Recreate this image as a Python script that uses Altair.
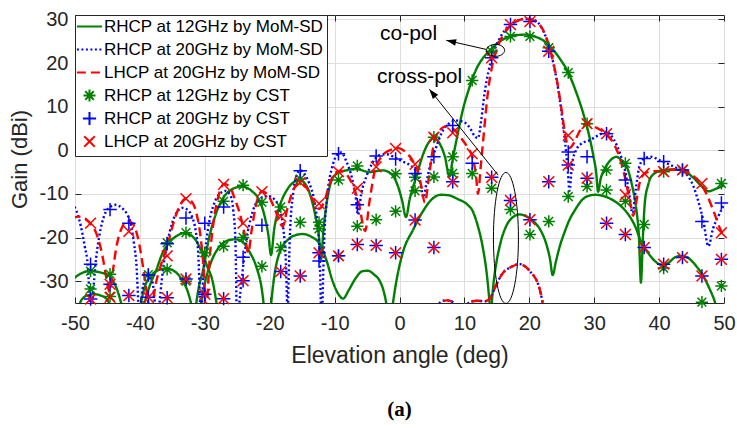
import math
import altair as alt
import pandas as pd

FONT = "Liberation Sans"
INK = "#262626"

# ---------------- series / legend definitions ----------------
SERIES = ["RHCP at 12GHz by MoM-SD", "RHCP at 20GHz by MoM-SD", "LHCP at 20GHz by MoM-SD",
          "RHCP at 12GHz by CST", "RHCP at 20GHz by CST", "LHCP at 20GHz by CST"]
COLORS = ["#008000", "#0000ff", "#ff0000", "#008000", "#0000ff", "#ff0000"]
# every symbol path carries the same invisible vertical extent so that legend rows are equally tall
EXTENT = "M0,-1.1M0,1.1"
LINE_SYM = "M-2.1,0H2.1" + EXTENT
ASTERISK = "M-1,0H1M0,-1V1M-0.72,-0.72L0.72,0.72M-0.72,0.72L0.72,-0.72" + EXTENT
PLUS = "M-1.1,0H1.1M0,-1.1V1.1" + EXTENT
CROSS = "M-0.88,-0.88L0.88,0.88M-0.88,0.88L0.88,-0.88" + EXTENT
SHAPES = [LINE_SYM, LINE_SYM, LINE_SYM, ASTERISK, PLUS, CROSS]
DASHES = [[1, 0], [2, 2.5], [9, 5], [1, 0], [1, 0], [1, 0]]

X_TICKS = [-50, -40, -30, -20, -10, 0, 10, 20, 30, 40, 50]
Y_TICKS = [-30, -20, -10, 0, 10, 20, 30]
X_DOMAIN = [-50, 50]
Y_DOMAIN = [-35, 31]

# ---------------- MoM-SD curves (segments) ----------------
RHCP12_MOM = [
    [(-50.5, -29.8), (-49.5, -28.6), (-48.5, -27.9), (-47.8, -27.7), (-46.8, -27.8), (-45.8, -28.1),
     (-45.0, -28.5), (-44.2, -29.8), (-43.5, -32.0), (-42.9, -35.0), (-42.6, -37.0)],
    [(-49.6, -37.0), (-49.0, -34.3), (-48.0, -33.2), (-47.0, -33.0), (-46.0, -33.3), (-45.0, -34.3), (-44.4, -37.0)],
    [(-40.1, -37.0), (-39.3, -31.5), (-38.3, -28.8), (-37.2, -27.5), (-36.0, -27.1), (-34.8, -27.6),
     (-33.6, -29.5), (-32.6, -32.5), (-31.8, -37.0)],
    [(-39.6, -37.0), (-39.1, -34.0), (-38.3, -30.3), (-37.5, -27.5), (-36.5, -23.5), (-35.5, -21.2),
     (-34.3, -19.6), (-33.2, -19.0), (-32.2, -19.4), (-31.4, -20.6), (-30.5, -23.2), (-29.6, -26.7),
     (-28.8, -30.0), (-28.2, -35.0), (-28.0, -37.0)],
    [(-31.5, -37.0), (-31.0, -32.0), (-30.2, -27.0), (-29.4, -20.5), (-28.5, -15.5), (-27.5, -11.8),
     (-26.2, -9.3), (-24.3, -8.3), (-22.8, -9.3), (-21.6, -11.5), (-20.8, -15.0), (-20.2, -19.5),
     (-19.8, -24.0), (-19.3, -18.0), (-18.5, -13.0), (-17.3, -9.0), (-16.3, -7.3), (-15.4, -6.8),
     (-14.4, -8.0), (-13.6, -11.0), (-12.9, -15.5), (-12.4, -20.0), (-12.1, -25.0), (-11.7, -18.0),
     (-11.3, -12.9), (-10.6, -7.5), (-9.8, -5.5), (-8.2, -4.6), (-6.7, -4.3), (-4.6, -5.0), (-2.6, -4.6),
     (-1.2, -5.5), (-0.3, -8.0), (0.4, -11.5), (1.0, -15.3), (1.6, -11.0), (2.6, -6.0), (3.5, -1.5),
     (4.3, 1.3), (5.3, 2.8), (6.2, 1.5), (7.0, -1.5), (7.7, -6.0), (8.2, -2.0), (8.8, 2.5), (9.8, 9.5),
     (10.8, 14.5), (11.8, 18.5), (12.9, 21.2), (14.0, 23.0), (15.3, 24.8), (16.5, 25.8), (18.0, 26.4),
     (19.5, 26.5), (21.0, 26.0), (22.3, 25.0), (23.5, 23.3), (24.7, 21.0), (26.0, 17.8), (27.3, 13.0),
     (28.3, 8.5), (29.2, 3.5), (29.9, -1.5), (30.3, -5.0), (30.6, -9.5), (31.0, -6.5), (31.6, -4.3),
     (32.5, -2.3), (33.4, -1.5), (34.3, -2.5), (35.2, -4.5), (35.9, -8.5), (36.5, -13.6), (36.9, -20.0),
     (37.2, -30.3), (37.5, -20.0), (37.8, -12.0), (38.3, -8.0), (38.8, -6.0), (40.4, -4.6), (42.0, -4.4),
     (43.5, -4.5), (45.2, -6.2), (46.6, -8.3), (47.6, -9.4), (48.8, -8.8), (50.5, -7.7)],
    [(-30.8, -37.0), (-30.0, -30.5), (-29.0, -25.5), (-27.8, -22.2), (-26.5, -20.7), (-25.3, -20.4),
     (-24.2, -21.0), (-23.1, -23.3), (-22.0, -27.0), (-21.2, -32.0), (-20.8, -37.0)],
    [(-19.9, -37.0), (-19.4, -30.0), (-18.5, -23.5), (-17.2, -20.5), (-15.9, -19.4), (-14.9, -19.2),
     (-13.6, -19.8), (-12.3, -21.5), (-11.3, -25.0), (-10.3, -30.0), (-9.4, -33.0), (-8.7, -34.0),
     (-7.8, -32.0), (-6.7, -29.2), (-5.7, -27.7), (-4.9, -27.6), (-3.9, -28.5), (-3.1, -29.8),
     (-2.4, -32.5), (-1.8, -37.0)],
    [(-1.2, -37.0), (-0.6, -31.0), (0.5, -23.5), (2.1, -18.2), (3.6, -14.0), (5.0, -11.2), (6.4, -10.2),
     (7.5, -10.3), (9.0, -11.2), (10.5, -12.5), (11.3, -14.0), (12.0, -17.0), (12.8, -22.0),
     (13.5, -29.0), (14.0, -37.0)],
    [(14.1, -37.0), (14.6, -29.0), (14.9, -26.0), (15.6, -21.0), (16.5, -17.2), (17.5, -15.3),
     (18.5, -14.7), (19.6, -15.2), (20.8, -16.5), (21.8, -18.5), (22.6, -21.4), (23.2, -25.0),
     (23.6, -28.6), (24.1, -25.5), (24.7, -22.0), (25.5, -18.5), (26.2, -15.9), (27.0, -13.8),
     (28.0, -11.6), (29.0, -10.5), (30.1, -10.2), (31.2, -10.4), (32.6, -11.2), (34.2, -12.9),
     (35.4, -15.0), (36.3, -17.4), (37.3, -21.2), (38.3, -23.5), (39.3, -25.3), (40.4, -26.3),
     (41.5, -25.7), (42.5, -24.5), (43.5, -24.2), (44.6, -24.8), (45.7, -26.5), (46.6, -28.3),
     (47.7, -31.5), (48.6, -34.8), (49.0, -37.0)],
]

CROSS_20_A = [(5.5, -37.0), (6.5, -34.6), (7.3, -34.4), (8.2, -34.8), (8.8, -37.0)]
CROSS_20_B = [(9.8, -37.0), (10.8, -34.8), (12.0, -34.5), (13.2, -34.6), (14.0, -33.8), (15.0, -30.5),
              (16.0, -28.0), (17.0, -26.9), (18.5, -26.1), (20.1, -27.7), (21.6, -31.8), (22.3, -37.0)]

RHCP20_MOM = [
    [(-50.5, -12.2), (-49.8, -13.8), (-49.1, -17.4), (-48.5, -22.0), (-48.0, -27.0), (-47.7, -37.0)],
    [(-47.4, -37.0), (-46.9, -27.0), (-46.3, -20.0), (-45.5, -15.0), (-44.6, -13.0), (-43.7, -12.5),
     (-42.8, -13.2), (-42.0, -14.6), (-41.3, -17.5), (-40.9, -21.5), (-40.5, -27.0), (-40.2, -37.0)],
    [(-39.9, -37.0), (-39.5, -31.0), (-38.8, -28.8), (-38.1, -30.0), (-37.6, -37.0)],
    [(-37.1, -37.0), (-36.5, -28.0), (-35.8, -21.5), (-35.0, -16.5), (-34.2, -14.0), (-33.5, -13.2),
     (-32.7, -13.6), (-31.9, -15.5), (-31.4, -18.5), (-31.0, -24.0), (-30.7, -37.0)],
    [(-30.5, -37.0), (-30.1, -26.0), (-29.5, -18.0), (-28.7, -12.8), (-27.7, -10.0), (-26.8, -9.3),
     (-26.0, -10.5), (-25.6, -14.0), (-25.3, -20.0), (-25.1, -37.0)],
    [(-24.8, -37.0), (-24.2, -28.0), (-23.4, -19.0), (-22.5, -13.5), (-21.4, -11.0), (-20.3, -10.5),
     (-19.3, -11.2), (-18.5, -13.5), (-17.9, -18.0), (-17.5, -26.0), (-17.3, -37.0)],
    [(-17.2, -37.0), (-16.9, -20.0), (-16.4, -10.0), (-15.9, -6.0), (-15.3, -4.6), (-14.6, -5.5),
     (-13.9, -7.6), (-13.2, -11.0), (-12.7, -16.0), (-12.3, -24.0), (-12.1, -37.0)],
    [(-11.9, -37.0), (-11.6, -20.5), (-11.1, -10.0), (-10.4, -4.0), (-9.6, -1.0), (-9.0, -0.5),
     (-8.2, -2.5), (-7.3, -6.5), (-6.8, -10.0), (-6.4, -14.8), (-5.9, -10.0), (-5.1, -6.0), (-4.2, -3.0),
     (-3.2, -1.2), (-2.0, -0.9), (-0.8, -1.6), (0.5, -2.6), (1.6, -3.4), (2.6, -5.0), (3.2, -7.5),
     (3.7, -10.8), (4.2, -7.0), (4.8, -3.0), (5.6, 0.5), (6.6, 4.3), (7.7, 6.2), (8.8, 6.8), (10.0, 6.4),
     (10.9, 5.0), (11.6, 3.2), (12.1, 2.8), (12.6, 7.0), (13.1, 13.0), (13.7, 18.0), (14.4, 22.0),
     (15.3, 25.2), (16.4, 27.8), (17.8, 29.4), (19.4, 30.1), (20.8, 29.8), (22.0, 27.8), (22.9, 24.5),
     (23.7, 20.0), (24.4, 14.5), (25.0, 8.3), (25.5, 2.0), (25.9, -4.0), (26.2, -9.3), (26.6, -3.0),
     (27.2, 0.0), (28.0, 1.5), (29.3, 2.3), (30.6, 3.4), (31.9, 4.2), (33.0, 2.5), (34.0, -0.8),
     (34.8, -5.0), (35.4, -10.0), (35.9, -14.4), (36.4, -9.0), (37.0, -3.5), (37.8, -1.8), (38.8, -1.5),
     (40.1, -2.3), (41.5, -3.2), (43.2, -4.5), (44.5, -6.0), (45.3, -8.3), (46.1, -12.0), (46.8, -16.0),
     (47.6, -22.0), (48.3, -18.0), (49.1, -15.2), (50.2, -12.0)],
    CROSS_20_A,
    CROSS_20_B,
]

LHCP20_MOM = [
    [(-50.5, -15.6), (-49.5, -15.2), (-48.5, -15.7), (-47.5, -17.0), (-46.6, -19.5), (-45.8, -24.0),
     (-45.2, -29.0), (-44.7, -32.5), (-44.2, -28.0), (-43.6, -22.0), (-42.8, -17.8), (-41.9, -16.2),
     (-41.1, -16.8), (-40.4, -19.5), (-39.8, -24.0), (-39.2, -30.0), (-38.7, -35.0), (-38.4, -37.0)],
    [(-38.2, -37.0), (-37.6, -31.0), (-36.8, -26.5), (-35.8, -22.0), (-34.8, -16.5), (-33.8, -12.5),
     (-32.8, -11.0), (-31.9, -12.0), (-31.2, -15.0), (-30.6, -20.5), (-30.2, -27.0), (-29.9, -37.0)],
    [(-29.7, -37.0), (-29.3, -26.0), (-28.7, -17.0), (-27.9, -10.5), (-27.0, -7.7), (-26.1, -8.5),
     (-25.3, -11.5), (-24.7, -14.0), (-23.9, -19.0), (-23.3, -23.5), (-22.8, -18.5), (-22.1, -12.5),
     (-21.2, -9.4), (-20.3, -10.2), (-19.4, -12.8), (-18.6, -15.8), (-18.0, -17.5), (-17.3, -13.5),
     (-16.4, -9.2), (-15.4, -7.4), (-14.4, -8.4), (-13.4, -11.2), (-12.4, -13.4), (-11.6, -11.8),
     (-10.8, -7.8), (-9.9, -5.2), (-9.1, -4.7), (-8.1, -5.6), (-7.2, -8.0), (-6.3, -12.0), (-5.3, -18.5),
     (-4.6, -11.5), (-3.8, -4.6), (-2.8, -1.5), (-1.5, 0.0), (-0.2, 0.5), (1.0, -0.5), (2.0, -2.3),
     (2.8, -4.8), (3.4, -8.5), (3.9, -12.0), (4.5, -6.5), (5.2, 0.8), (6.2, 4.6), (7.4, 5.6), (8.5, 4.6),
     (9.6, 2.6), (10.6, 0.4), (11.3, -1.8), (11.8, -6.0), (12.1, -10.0), (12.5, -4.0), (13.0, 4.0),
     (13.6, 13.0), (14.3, 19.5), (15.2, 24.0), (16.5, 27.5), (18.0, 29.5), (19.5, 30.2), (21.0, 29.5),
     (22.3, 27.0), (23.3, 22.5), (24.2, 16.5), (25.0, 9.0), (25.6, 3.0), (26.2, 0.5), (26.8, 1.5),
     (27.8, 4.5), (28.9, 6.3), (30.3, 5.2), (31.9, 3.6), (33.2, 1.0), (34.2, -3.0), (35.0, -8.0),
     (35.6, -12.5), (36.0, -15.0), (36.4, -12.5), (37.0, -7.5), (37.8, -5.3), (39.0, -4.8), (40.7, -4.8),
     (42.2, -4.4), (43.6, -4.4), (45.0, -5.6), (46.2, -7.2), (47.3, -10.0), (48.4, -14.0), (49.4, -18.0),
     (50.5, -21.0)],
    CROSS_20_A,
    CROSS_20_B,
]

# ---------------- CST samples (two values per angle: upper / lower trace) ----------------
CST_ANGLES = [-47.6, -44.6, -41.7, -38.7, -35.8, -32.9, -30.0, -27.1, -24.1, -21.2, -18.3, -15.3,
              -12.4, -9.4, -6.5, -3.6, -0.6, 2.4, 5.3, 8.2, 11.2, 14.2, 17.1, 20.1, 23.0, 26.0, 28.9,
              31.9, 34.8, 37.7, 40.7, 43.6, 46.6, 49.6]
RHCP12_CST_A = [-27.7, -28.4, None, -28.5, -21.2, -18.9, -23.5, -11.7, -8.0, -11.9, -13.0, -6.6, -16.5,
                -6.8, -3.6, -15.9, -5.4, -6.2, 3.0, -1.5, 16.0, 22.7, 26.1, 26.1, 23.5, 17.8, 6.1, -4.5,
                -3.0, -17.0, -4.9, -4.6, -34.8, -7.6]
RHCP12_CST_B = [-31.8, -33.5, None, None, -27.3, -30.0, None, -22.0, -20.0, -26.6, -22.3, -16.5, -18.0,
                -24.2, -17.4, None, -14.0, -9.3, -6.1, -5.3, -5.3, -8.7, -13.6, -19.3, -16.3, -10.6, -8.3,
                -9.1, -11.7, None, -27.0, None, None, -31.1]
RHCP20_CST_A = [-26.1, -13.6, -16.7, -28.6, -21.4, -15.5, -16.7, -13.0, -24.5, -17.2, -27.8, -4.7, -23.5,
                -0.8, -12.5, -1.3, -2.0, -5.3, -1.5, 5.7, -3.0, 21.2, 28.8, 29.5, 22.7, -0.4, -1.5, 3.8,
                -6.8, -1.9, -2.6, -4.5, -16.3, -12.1]
RHCP20_CST_B = [-34.1, -30.7, -33.3, -33.7, -33.8, -29.5, -33.0, -34.0, -29.9, None, None, -28.8, -25.4,
                -24.2, -21.6, -21.8, -23.5, -16.0, -22.3, -7.2, None, -6.2, -11.5, -15.9, -7.2, -3.4, -6.4,
                -16.7, -19.3, -22.3, -26.1, -24.6, -28.8, -25.0]
LHCP20_CST_A = [-16.7, -30.7, -18.6, -33.7, -24.2, -11.1, -33.0, -7.8, -16.7, -9.5, -15.2, -7.4, -12.2,
                -4.9, -8.7, -3.8, 0.4, -3.2, 3.0, 4.0, -0.8, 21.2, 28.8, 29.5, 22.7, 3.4, 6.1, 3.8, -10.2,
                -5.3, -4.9, -4.5, -7.6, -18.9]
LHCP20_CST_B = [-34.1, -33.7, -33.3, None, -33.8, -29.5, None, -34.0, -29.9, None, -27.8, -28.8, -23.5,
                -24.2, -21.6, -21.8, -23.5, -16.0, -22.3, -7.2, None, -6.2, -11.5, -15.9, -7.2, -3.4, -6.4,
                -16.7, -19.3, -22.3, -26.1, -24.6, -28.8, -25.0]

# ---------------- annotations ----------------
LABELS = ["co-pol", "cross-pol"]
LABEL_X = [1.4, 3.1]
LABEL_Y = [25.2, 15.5]
ARROW_TAIL_X = [13.4, 15.2]
ARROW_TAIL_Y = [23.1, -5.7]
ARROW_TIP_X = [7.2, 4.6]
ARROW_TIP_Y = [25.2, 14.0]
COPOL_ELLIPSE = (14.8, 22.9)
XPOL_ELLIPSE = (16.4, -20.1)

# ---------------- geometry ----------------
PLOT_W, PLOT_H = 649, 288
PAD = {"left": 75, "top": 15, "right": 737 - 75 - 649, "bottom": 428 - 15 - 288}

# ---------------- build tables ----------------
line_rows = []
for name, segs in [(SERIES[0], RHCP12_MOM), (SERIES[1], RHCP20_MOM), (SERIES[2], LHCP20_MOM)]:
    for si, seg in enumerate(segs):
        for i, (x, y) in enumerate(seg):
            line_rows.append({"series": name, "seg": f"{name}#{si}", "i": i, "x": x, "y": y})
line_df = pd.DataFrame(line_rows)

pt_rows = []
for name, va, vb in [(SERIES[3], RHCP12_CST_A, RHCP12_CST_B),
                     (SERIES[4], RHCP20_CST_A, RHCP20_CST_B),
                     (SERIES[5], LHCP20_CST_A, LHCP20_CST_B)]:
    for x, a, b in zip(CST_ANGLES, va, vb):
        for v in (a, b):
            if v is not None:
                pt_rows.append({"series": name, "x": x, "y": v})
pt_df = pd.DataFrame(pt_rows)

kx = PLOT_W / (X_DOMAIN[1] - X_DOMAIN[0])
ky = PLOT_H / (Y_DOMAIN[1] - Y_DOMAIN[0])
angles = []
for tx, ty, hx, hy in zip(ARROW_TAIL_X, ARROW_TAIL_Y, ARROW_TIP_X, ARROW_TIP_Y):
    dx = (hx - tx) * kx
    dy = -(hy - ty) * ky
    angles.append(math.degrees(math.atan2(dx, -dy)) % 360)
arrow_df = pd.DataFrame({"x": ARROW_TAIL_X, "y": ARROW_TAIL_Y, "x2": ARROW_TIP_X, "y2": ARROW_TIP_Y,
                         "ang": angles})
text_df = pd.DataFrame({"label": LABELS, "x": LABEL_X, "y": LABEL_Y})

# ---------------- scales / axes ----------------
XS = alt.Scale(domain=X_DOMAIN, nice=False, zero=False)
YS = alt.Scale(domain=Y_DOMAIN, nice=False, zero=False)
CS = alt.Scale(domain=SERIES, range=COLORS)
SS = alt.Scale(domain=SERIES, range=SHAPES)
DS = alt.Scale(domain=SERIES, range=DASHES)

LEG = alt.Legend(title=None, orient="top-left", offset=0, padding=3, strokeColor=INK, fillColor="white",
                 labelFont=FONT, labelFontSize=17, labelColor="black", labelLimit=500,
                 symbolSize=144, symbolStrokeWidth=2, symbolOffset=3, labelOffset=6, rowPadding=0)

x_axis = alt.Axis(values=X_TICKS, orient="bottom", offset=-6, tickSize=6, tickColor=INK, domain=False,
                  grid=True, gridColor="#dedede", gridWidth=1, labelFont=FONT, labelFontSize=20,
                  labelColor=INK, labelPadding=10, labelExpr="'' + datum.value", labelFlush=False,
                  labelOverlap=False, title="Elevation angle (deg)", titleFont=FONT, titleFontSize=23,
                  titleFontWeight="normal", titleColor=INK, titlePadding=11)
y_axis = alt.Axis(values=Y_TICKS, orient="left", offset=-6, tickSize=6, tickColor=INK, domain=False,
                  grid=True, gridColor="#dedede", gridWidth=1, labelFont=FONT, labelFontSize=20,
                  labelColor=INK, labelPadding=7, labelExpr="'' + datum.value", labelOverlap=False,
                  title="Gain (dBi)", titleFont=FONT, titleFontSize=22, titleFontWeight="normal",
                  titleColor=INK, titlePadding=8)
top_axis = alt.Axis(values=X_TICKS, orient="top", offset=-6, tickSize=6, tickColor=INK, domain=False,
                    grid=False, labels=False, title=None)
right_axis = alt.Axis(values=Y_TICKS, orient="right", offset=-6, tickSize=6, tickColor=INK, domain=False,
                      grid=False, labels=False, title=None)

# ---------------- layers ----------------
lines = alt.Chart(line_df).mark_line(strokeWidth=2.4, clip=True, interpolate="monotone").encode(
    x=alt.X("x:Q", scale=XS, axis=None),
    y=alt.Y("y:Q", scale=YS, axis=None),
    color=alt.Color("series:N", scale=CS, legend=LEG),
    strokeDash=alt.StrokeDash("series:N", scale=DS, legend=LEG),
    detail="seg:N",
    order="i:Q",
)

points = alt.Chart(pt_df).mark_point(filled=False, size=150, strokeWidth=1.5, opacity=1).encode(
    x=alt.X("x:Q", scale=XS, axis=x_axis),
    y=alt.Y("y:Q", scale=YS, axis=y_axis),
    color=alt.Color("series:N", scale=CS, legend=LEG),
    shape=alt.Shape("series:N", scale=SS, legend=LEG),
    strokeDash=alt.StrokeDash("series:N", scale=DS, legend=LEG),
)

ell_co = alt.Chart(pd.DataFrame({"x": [COPOL_ELLIPSE[0]], "y": [COPOL_ELLIPSE[1]]})).mark_point(
    shape="M-0.9,0A0.9,0.6 0 1,1 0.9,0A0.9,0.6 0 1,1 -0.9,0Z", size=400, filled=False,
    color="black", strokeWidth=1, opacity=1).encode(
    x=alt.X("x:Q", scale=XS, axis=top_axis),
    y=alt.Y("y:Q", scale=YS, axis=right_axis),
)
ell_x = alt.Chart(pd.DataFrame({"x": [XPOL_ELLIPSE[0]], "y": [XPOL_ELLIPSE[1]]})).mark_point(
    shape="M0,-6.55A1.25,6.55 0 1,1 0,6.55A1.25,6.55 0 1,1 0,-6.55Z", size=400, filled=False,
    color="black", strokeWidth=1, opacity=1).encode(
    x=alt.X("x:Q", scale=XS, axis=None),
    y=alt.Y("y:Q", scale=YS, axis=None),
)

arrow_lines = alt.Chart(arrow_df).mark_rule(color="black", strokeWidth=1).encode(
    x=alt.X("x:Q", scale=XS, axis=None), y=alt.Y("y:Q", scale=YS, axis=None),
    x2="x2:Q", y2="y2:Q")
arrow_heads = alt.Chart(arrow_df).mark_point(
    shape="M0,0L0.38,1.1L-0.38,1.1Z", size=324, filled=True, color="black", opacity=1,
    strokeWidth=0).encode(
    x=alt.X("x2:Q", scale=XS, axis=None), y=alt.Y("y2:Q", scale=YS, axis=None),
    angle=alt.Angle("ang:Q", scale=None))

texts = alt.Chart(text_df).mark_text(font=FONT, fontSize=21, align="center", baseline="alphabetic",
                                     color="black").encode(
    x=alt.X("x:Q", scale=XS, axis=None), y=alt.Y("y:Q", scale=YS, axis=None), text="label:N")

chart = alt.layer(lines, points, ell_co, ell_x, arrow_lines, arrow_heads, texts).resolve_axis(
    x="independent", y="independent"
).properties(
    width=PLOT_W, height=PLOT_H, padding=PAD, autosize=alt.AutoSizeParams(type="none"),
    title=alt.Title("(a)", orient="bottom", font="Liberation Serif", fontSize=21, fontWeight="bold",
                    color="black", offset=32, anchor="middle"),
).configure_view(stroke=INK, strokeWidth=1)

chart.save("out.html", embed_options={"renderer": "svg", "actions": False})
